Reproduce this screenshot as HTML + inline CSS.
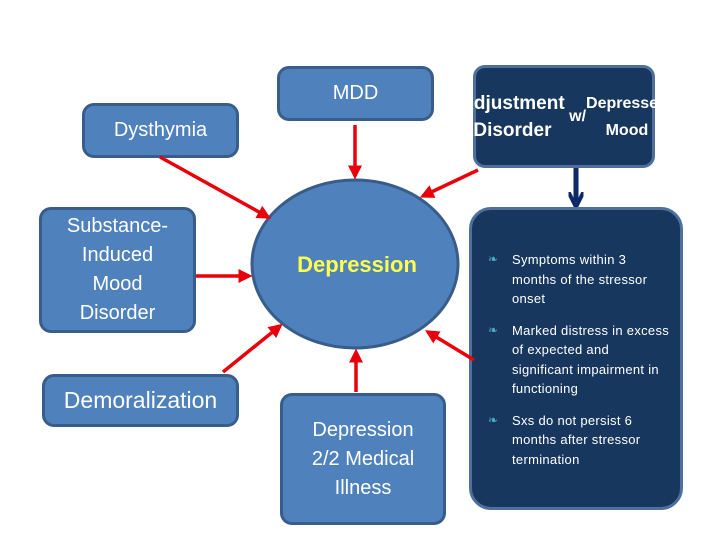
<!DOCTYPE html>
<html><head><style>
body{margin:0;background:#fff;width:720px;height:540px;position:relative;overflow:hidden;font-family:"Liberation Sans",sans-serif}
.b{position:absolute;box-sizing:border-box;background:#4f81bd;border:3px solid #385d8a;border-radius:12px;color:#fff;display:flex;align-items:center;justify-content:center;text-align:center;font-size:20px;line-height:29px}
.d{background:#17375e;border-color:#4f6f9c}
ul{margin:0;padding:0;list-style:none}
li{position:relative;padding-left:26px;margin-bottom:12px;font-size:13px;line-height:19.5px;letter-spacing:.3px}
li:before{content:"\2767";position:absolute;left:2px;top:0;color:#4bacc6;font-size:12px}
</style></head><body>
<div class="b" style="left:82px;top:103px;width:157px;height:55px">Dysthymia</div>
<div class="b" style="left:277px;top:66px;width:157px;height:55px">MDD</div>
<div class="b" style="left:39px;top:207px;width:157px;height:126px">Substance-<br>Induced<br>Mood<br>Disorder</div>
<div class="b" style="left:42px;top:374px;width:197px;height:53px;font-size:23px">Demoralization</div>
<div class="b" style="left:280px;top:393px;width:166px;height:132px">Depression<br>2/2 Medical<br>Illness</div>
<div class="b d" style="left:473px;top:65px;width:182px;height:103px;font-weight:bold;font-size:19px;line-height:27px">Adjustment<br>Disorder <span style="font-size:16px">&nbsp;w/</span><br><span style="font-size:16px">Depressed Mood</span></div>
<div class="b d" style="left:469px;top:207px;width:214px;height:303px;align-items:flex-start;justify-content:flex-start;text-align:left;padding:40px 10px 0 14px;border-radius:22px">
<ul><li>Symptoms within 3 months of the stressor onset</li><li>Marked distress in excess of expected and significant impairment in functioning</li><li>Sxs do not persist 6 months after stressor termination</li></ul></div>
<svg width="720" height="540" style="position:absolute;left:0;top:0">
<defs><marker id="r" markerWidth="4" markerHeight="4" refX="3" refY="2" orient="auto"><path d="M0,0L4,2L0,4z" fill="#e8000b"/></marker>
<marker id="n" markerWidth="3" markerHeight="3" refX="2" refY="1.5" orient="auto"><path d="M0,0L3,1.5L0,3" fill="none" stroke="#0c2a6a" stroke-width="0.8"/></marker></defs>
<ellipse cx="355" cy="264" rx="103" ry="84" fill="#4f81bd" stroke="#385d8a" stroke-width="3"/>
<text x="357" y="272" text-anchor="middle" font-family="Liberation Sans" font-weight="bold" font-size="22" fill="#ffff4d">Depression</text>
<g stroke="#e8000b" stroke-width="3.5" fill="none" marker-end="url(#r)">
<line x1="160" y1="157" x2="268" y2="217"/>
<line x1="355" y1="125" x2="355" y2="176"/>
<line x1="196" y1="276" x2="249" y2="276"/>
<line x1="223" y1="372" x2="280" y2="326"/>
<line x1="356" y1="392" x2="356" y2="352"/>
<line x1="478" y1="170" x2="423" y2="196"/>
<line x1="474" y1="360" x2="428" y2="332"/>
</g>
<line x1="576" y1="168" x2="576" y2="202" stroke="#0c2a6a" stroke-width="5" marker-end="url(#n)"/>
</svg>
</body></html>
